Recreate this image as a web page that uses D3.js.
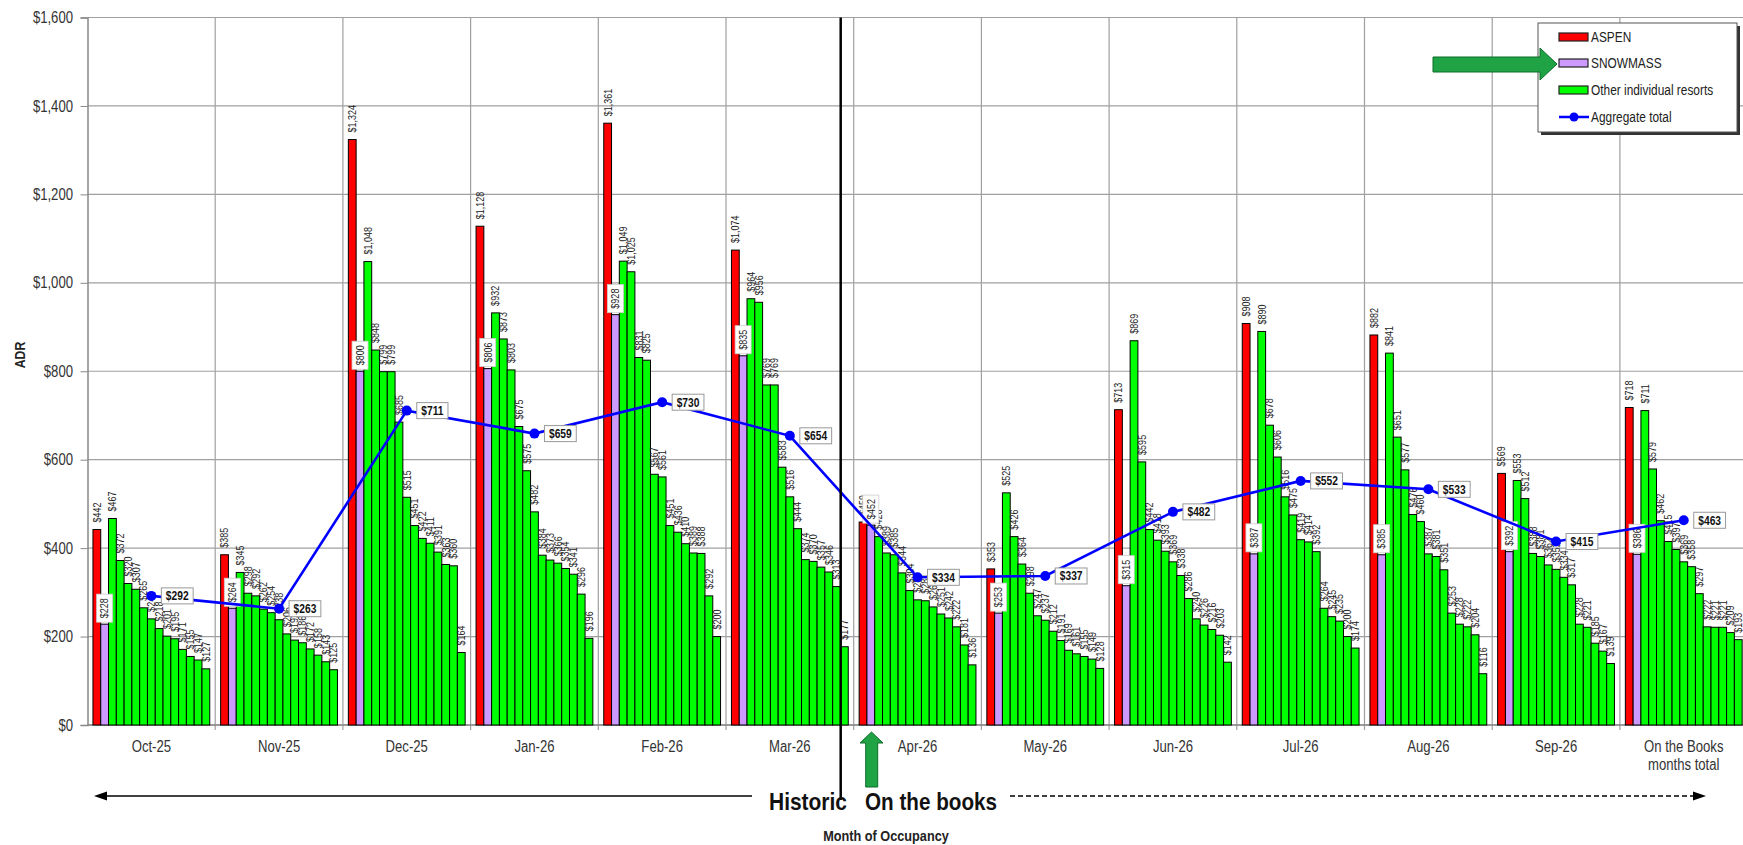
<!DOCTYPE html>
<html><head><meta charset="utf-8">
<script src="https://cdn.jsdelivr.net/npm/d3@7"></script>
<style>
html,body{margin:0;padding:0;background:#fff;}
svg{display:block;font-family:'Liberation Sans',Arial,sans-serif;}
</style></head><body>
<svg id="chart" width="1743" height="845"></svg>
<script>
// ---- data ----
const months = ["Oct-25","Nov-25","Dec-25","Jan-26","Feb-26","Mar-26","Apr-26","May-26","Jun-26","Jul-26","Aug-26","Sep-26","OTB"];
const monthLabels = [["Oct-25"],["Nov-25"],["Dec-25"],["Jan-26"],["Feb-26"],["Mar-26"],["Apr-26"],["May-26"],["Jun-26"],["Jul-26"],["Aug-26"],["Sep-26"],["On the Books","months total"]];
const aspen    = [442, 385, 1324, 1128, 1361, 1074, 459, 353, 713, 908, 882, 569, 718];
const snowmass = [228, 264,  800,  806,  928,  835, 452, 253, 315, 387, 385, 392, 386];
const otherResorts = [
  [467, 372, 320, 307, 265, 240, 218, 201, 195, 171, 155, 147, 127],
  [345, 298, 292, 262, 254, 238, 206, 192, 186, 172, 158, 143, 125],
  [1048, 848, 799, 799, 685, 515, 451, 422, 411, 391, 363, 360, 164],
  [932, 873, 803, 675, 575, 482, 384, 373, 366, 354, 341, 296, 196],
  [1049, 1025, 831, 825, 567, 561, 451, 436, 410, 389, 388, 292, 200],
  [964, 956, 769, 769, 583, 516, 444, 374, 370, 357, 346, 313, 177],
  [426, 389, 385, 344, 304, 283, 281, 267, 251, 242, 222, 181, 136],
  [525, 426, 364, 298, 247, 237, 212, 191, 169, 161, 155, 149, 128],
  [869, 595, 442, 418, 393, 369, 338, 286, 240, 226, 216, 203, 142],
  [890, 678, 606, 516, 475, 419, 414, 392, 264, 245, 235, 200, 174],
  [841, 651, 577, 476, 460, 387, 381, 351, 253, 228, 222, 204, 116],
  [553, 512, 388, 381, 362, 352, 334, 317, 228, 221, 185, 167, 139],
  [711, 579, 462, 415, 397, 369, 358, 297, 222, 221, 221, 209, 193]
];
const aggregate = [292, 263, 711, 659, 730, 654, 334, 337, 482, 552, 533, 415, 463];
const yTicks = [0, 200, 400, 600, 800, 1000, 1200, 1400, 1600];
const legendNames = ["ASPEN", "SNOWMASS", "Other individual resorts", "Aggregate total"];

// ---- layout / style ----
const W = 1743, H = 845;
const pLeft = 87.5, pTop = 17.5, pBottom = 725, step = 127.7;
const NARROW = 0.82;
const colAspen = "#ff0000", colSnow = "#cc99ff", colOther = "#00ff00", colAgg = "#0000ff";
const fmt = d3.format("$,");

const svg = d3.select("#chart");
const otherKeys = d3.range(13).map(i => "R" + i);
const seriesKeys = ["ASPEN", "SNOWMASS", ...otherKeys];

const x0 = d3.scaleBand().domain(months).range([pLeft, pLeft + step * months.length]).padding(0);
const x1 = d3.scaleBand().domain(seriesKeys).range([0, x0.bandwidth()]).paddingInner(0).paddingOuter(0.7);
const y = d3.scaleLinear().domain([0, 1600]).range([pBottom, pTop]);

// gridlines
svg.append("g").selectAll("line").data(yTicks).join("line")
  .attr("x1", pLeft).attr("x2", W).attr("y1", d => y(d)).attr("y2", d => y(d))
  .attr("stroke", "#a0a0a0").attr("stroke-width", 1.2);
const bounds = months.map(m => x0(m)).concat([x0.range()[1]]);
svg.append("g").selectAll("line").data(bounds.slice(1)).join("line")
  .attr("x1", d => d).attr("x2", d => d).attr("y1", pTop).attr("y2", pBottom + 5)
  .attr("stroke", "#a0a0a0").attr("stroke-width", 1.2);

// y axis
const yAxis = svg.append("g").attr("transform", `translate(${pLeft},0)`)
  .call(d3.axisLeft(y).tickValues(yTicks).tickFormat(fmt).tickSize(7).tickPadding(7.5));
yAxis.attr("font-family", null).attr("font-size", null);
yAxis.select(".domain").attr("stroke", "#888").attr("stroke-width", 1.5);
yAxis.selectAll(".tick line").attr("stroke", "#888");
yAxis.selectAll(".tick text").attr("x", 0).attr("transform", `translate(-14.5,0) scale(${NARROW},1)`)
  .attr("font-size", 16).attr("fill", "#333");

// x axis line
svg.append("line").attr("x1", pLeft).attr("x2", W).attr("y1", pBottom).attr("y2", pBottom)
  .attr("stroke", "#888").attr("stroke-width", 1.5);

// bars
const groups = svg.append("g").selectAll("g").data(months).join("g")
  .attr("transform", d => `translate(${x0(d)},0)`);
function rowFor(i) {
  const r = [{k: "ASPEN", v: aspen[i], c: colAspen}, {k: "SNOWMASS", v: snowmass[i], c: colSnow}];
  otherResorts[i].forEach((v, j) => r.push({k: otherKeys[j], v: v, c: colOther}));
  return r;
}
groups.each(function(m, i) {
  const g = d3.select(this);
  const rows = rowFor(i);
  g.selectAll("rect").data(rows).join("rect")
    .attr("x", d => x1(d.k)).attr("width", x1.bandwidth())
    .attr("y", d => y(d.v)).attr("height", d => pBottom - y(d.v))
    .attr("fill", d => d.c).attr("stroke", "#000").attr("stroke-width", 1);
  g.selectAll("text.lbl").data(rows.filter(d => d.k !== "SNOWMASS")).join("text")
    .attr("class", "lbl")
    .attr("transform", d => `translate(${x1(d.k) + x1.bandwidth() / 2},${y(d.v) - 7}) rotate(-90) scale(${NARROW},1)`)
    .attr("dy", "0.35em").attr("font-size", 11).attr("fill", "#222")
    .text(d => fmt(d.v));
  const s = rows[1];
  const cx = x1("SNOWMASS") + x1.bandwidth() / 2;
  const lb = g.append("g").attr("transform", `translate(${cx},${y(s.v) - 2}) rotate(-90)`);
  const t = lb.append("text").attr("transform", `translate(4,0) scale(${NARROW},1)`).attr("dy", "0.35em")
    .attr("font-size", 11).attr("fill", "#222").text(fmt(s.v));
  const tw = t.node().getComputedTextLength() * NARROW;
  lb.insert("rect", "text").attr("x", 0).attr("y", -8).attr("width", tw + 8).attr("height", 16)
    .attr("fill", "#fff").attr("stroke", "#ccc").attr("stroke-width", 0.8);
});

// month labels
svg.append("g").selectAll("g").data(months).join("g")
  .attr("transform", d => `translate(${x0(d) + x0.bandwidth() / 2},752) scale(${NARROW},1)`)
  .each(function(d, i) {
    d3.select(this).selectAll("text").data(monthLabels[i]).join("text")
      .attr("y", (s, k) => k * 18).attr("text-anchor", "middle").attr("font-size", 16).attr("fill", "#333").text(s => s);
  });

// aggregate line
const cxOf = (m) => x0(m) + x0.bandwidth() / 2;
svg.append("path").datum(months)
  .attr("d", d3.line().x(m => cxOf(m)).y((m, i) => y(aggregate[i])))
  .attr("fill", "none").attr("stroke", colAgg).attr("stroke-width", 2.6);
svg.append("g").selectAll("circle").data(months).join("circle")
  .attr("cx", m => cxOf(m)).attr("cy", (m, i) => y(aggregate[i])).attr("r", 5).attr("fill", colAgg);
const aggLbl = svg.append("g").selectAll("g").data(months).join("g")
  .attr("transform", (m, i) => `translate(${cxOf(m) + 10},${y(aggregate[i])})`);
aggLbl.each(function(m, i) {
  const g = d3.select(this);
  const t = g.append("text").attr("transform", `translate(4.5,0) scale(${NARROW},1)`).attr("dy", "0.36em")
    .attr("font-size", 12.5).attr("font-weight", "bold").attr("fill", "#111").text(fmt(aggregate[i]));
  const tw = t.node().getComputedTextLength() * NARROW;
  g.insert("rect", "text").attr("x", 0).attr("y", -8).attr("width", tw + 9).attr("height", 16)
    .attr("fill", "#fff").attr("stroke", "#999").attr("stroke-width", 1);
});

// separator
const sepX = (x0("Mar-26") + x0.bandwidth() + x0("Apr-26")) / 2 - 13;
svg.append("line").attr("x1", sepX).attr("x2", sepX).attr("y1", pTop).attr("y2", 800)
  .attr("stroke", "#000").attr("stroke-width", 2.5);

// historic / on the books arrows
svg.append("line").attr("x1", 104).attr("x2", 752).attr("y1", 796).attr("y2", 796).attr("stroke", "#000").attr("stroke-width", 1.5);
svg.append("path").attr("d", "M94,796 L107,791.5 L107,800.5 Z").attr("fill", "#000");
svg.append("line").attr("x1", 1010).attr("x2", 1696).attr("y1", 796).attr("y2", 796).attr("stroke", "#000").attr("stroke-width", 1.5).attr("stroke-dasharray", "5,3");
svg.append("path").attr("d", "M1706,796 L1693,791.5 L1693,800.5 Z").attr("fill", "#000");
svg.append("text").attr("x", 769).attr("y", 810).attr("font-size", 24).attr("font-weight", "bold").attr("fill", "#111")
  .attr("textLength", 78).attr("lengthAdjust", "spacingAndGlyphs").text("Historic");
svg.append("text").attr("x", 865).attr("y", 810).attr("font-size", 24).attr("font-weight", "bold").attr("fill", "#111")
  .attr("textLength", 132).attr("lengthAdjust", "spacingAndGlyphs").text("On the books");
svg.append("text").attr("transform", `translate(886,841) scale(${NARROW},1)`).attr("text-anchor", "middle").attr("font-size", 15.5).attr("font-weight", "bold").attr("fill", "#222")
  .text("Month of Occupancy");
svg.append("text").attr("transform", `translate(25,355) rotate(-90) scale(${NARROW},1)`).attr("text-anchor", "middle").attr("font-size", 15).attr("font-weight", "bold").attr("fill", "#222").text("ADR");

// legend
const lg = svg.append("g");
lg.append("rect").attr("x", 1541).attr("y", 26).attr("width", 199).attr("height", 109).attr("fill", "#333");
lg.append("rect").attr("x", 1538).attr("y", 23).attr("width", 199).attr("height", 109).attr("fill", "#fff").attr("stroke", "#555").attr("stroke-width", 1);
const legCols = [colAspen, colSnow, colOther, colAgg];
const legY = [37, 63, 90, 117];
legendNames.forEach((n, i) => {
  if (i < 3) {
    lg.append("rect").attr("x", 1559).attr("y", legY[i] - 4).attr("width", 29).attr("height", 8)
      .attr("fill", legCols[i]).attr("stroke", "#222").attr("stroke-width", 1.2);
  } else {
    lg.append("line").attr("x1", 1559).attr("x2", 1589).attr("y1", legY[i]).attr("y2", legY[i]).attr("stroke", colAgg).attr("stroke-width", 2.5);
    lg.append("circle").attr("cx", 1574).attr("cy", legY[i]).attr("r", 4.5).attr("fill", colAgg);
  }
  lg.append("text").attr("transform", `translate(1591,${legY[i]}) scale(${NARROW},1)`).attr("dy", "0.35em")
    .attr("font-size", 14.5).attr("fill", "#222").text(n);
});

// green arrows (on top)
svg.append("path").attr("d", "M871.5,732 L883,743 L877.7,743 L877.7,787 L865.7,787 L865.7,743 L860,743 Z")
  .attr("fill", "#1fa344").attr("stroke", "#0d6e2b").attr("stroke-width", 1);
svg.append("path").attr("d", "M1433,57 L1540,57 L1540,48 L1557,64 L1540,80 L1540,72 L1433,72 Z")
  .attr("fill", "#1fa344").attr("stroke", "#0d6e2b").attr("stroke-width", 1);
</script>
</body></html>
